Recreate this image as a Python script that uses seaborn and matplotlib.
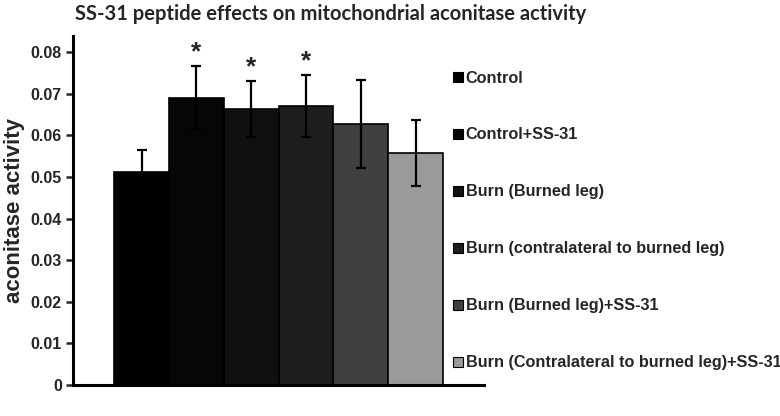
import numpy as np
import pandas as pd
import seaborn as sns
from matplotlib import pyplot as plt
from matplotlib.lines import Line2D

groups = ["Control", "Control+SS-31", "Burn (Burned leg)",
          "Burn (contralateral to burned leg)", "Burn (Burned leg)+SS-31",
          "Burn (Contralateral to burned leg)+SS-31"]
activity = [0.0513, 0.0691, 0.0663, 0.0670, 0.0627, 0.0557]
errors = [0.0051, 0.0075, 0.0067, 0.0075, 0.0106, 0.0079]
significant = [False, True, True, True, False, False]
colors = ["#000000", "#060606", "#101010", "#1e1e1e", "#404040", "#9a9a9a"]
yticks = [0, 0.01, 0.02, 0.03, 0.04, 0.05, 0.06, 0.07, 0.08]

sns.set_style("white")
plt.rcParams['font.family'] = ['Liberation Sans', 'DejaVu Sans']

df = pd.DataFrame({"group": groups, "activity": activity})

fig = plt.figure(figsize=(7.8, 4.16), dpi=100)
ax = fig.add_axes([0.0936, 0.0745, 0.527, 0.839])
sns.barplot(data=df, x="group", y="activity", hue="group", palette=colors,
            width=1.0, errorbar=None, edgecolor="black", linewidth=1.2,
            legend=False, ax=ax)
ax.errorbar(np.arange(len(groups)), activity, yerr=errors, fmt="none",
            ecolor="black", elinewidth=1.6, capsize=3.5, capthick=1.6)

# significance stars
for i, sig in enumerate(significant):
    if sig:
        ax.text(i, activity[i] + errors[i] + 0.0004, "*", ha="center", va="bottom",
                fontsize=19, fontweight="bold")

ax.set_xlim(-1.25, 6.25)
ax.set_ylim(0, 0.0839)
ax.set_yticks(yticks)
ax.set_yticklabels(["0" if t == 0 else f"{t:.2f}" for t in yticks],
                   fontsize=11.5, fontweight="bold")
ax.set_xticks([])
ax.set_xlabel("")
ax.set_ylabel("aconitase activity", fontsize=16, fontweight="bold", labelpad=4)
ax.tick_params(axis="y", left=True, length=5, width=1.8, pad=3)
sns.despine(ax=ax)
for side in ["left", "bottom"]:
    ax.spines[side].set_linewidth(2.2)
    ax.spines[side].set_color("black")

fig.text(0.096, 0.966, "SS-31 peptide effects on mitochondrial aconitase activity",
         fontsize=14.5, fontweight="bold", family=["Lato", "DejaVu Sans"], va="center")

handles = [Line2D([], [], marker="s", linestyle="none", markersize=7.5,
                  markerfacecolor=c, markeredgecolor="black", markeredgewidth=0.8)
           for c in colors]
fig.legend(handles, groups, loc="upper left", bbox_to_anchor=(0.571, 0.846),
           frameon=False, labelspacing=2.58, handlelength=0.7, handletextpad=0.15,
           borderaxespad=0, prop={"weight": "bold", "size": 11.7})

plt.savefig("out.png")
